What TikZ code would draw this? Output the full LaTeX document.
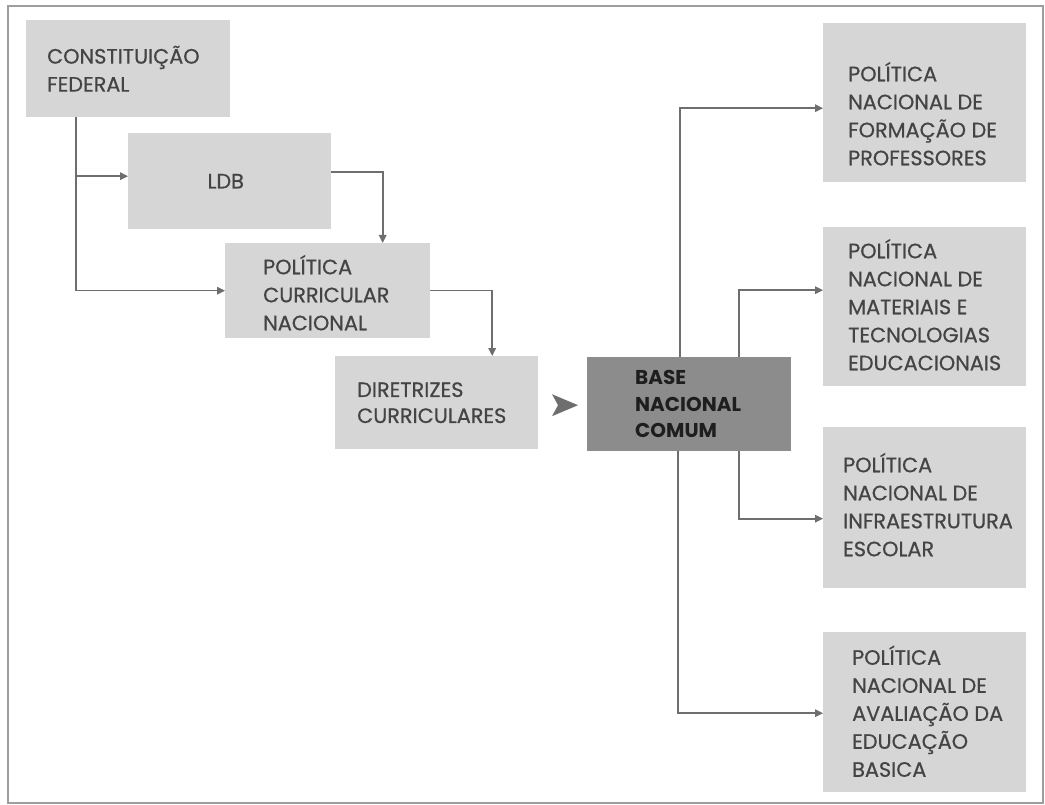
\documentclass[tikz,border=0pt]{standalone}
\usepackage{fontspec}
\setmainfont{Poppins}
\newfontfamily\medfont[FakeBold=0.6]{Poppins}
\usetikzlibrary{arrows.meta,calc}
\definecolor{boxgray}{HTML}{D6D6D6}
\definecolor{basegray}{HTML}{8C8C8C}
\definecolor{linegray}{HTML}{6E6E6E}
\definecolor{framegray}{HTML}{9E9E9E}
\definecolor{txtgray}{HTML}{444444}
\definecolor{txtdark}{HTML}{1E1E1E}
\tikzset{
  box/.style={fill=boxgray, draw=none, inner sep=0, anchor=north west},
  basebox/.style={fill=basegray, draw=none, inner sep=0, anchor=north west},
  lbl/.style={font=\medfont\fontsize{20.8}{28}\selectfont, text=txtgray, align=left, inner sep=0, anchor=west},
  blbl/.style={font=\fontsize{20}{26.5}\selectfont\bfseries, text=txtdark, align=left, inner sep=0, anchor=west},
  arr/.style={draw=linegray, line width=1.6pt, -{Triangle[length=8pt,width=7.5pt]}},
}
\begin{document}
\begin{tikzpicture}[x=1pt,y=-1pt]
\useasboundingbox (0,0) rectangle (1045,805);
\draw[framegray, line width=1.5pt] (8,6) rectangle (1043,803);
% left chain
\node[box, minimum width=204pt, minimum height=97pt] (cf) at (26,20) {};
\node[box, minimum width=203pt, minimum height=96pt] (ldb) at (128,133) {};
\node[box, minimum width=205pt, minimum height=95pt] (pcn) at (225,243) {};
\node[box, minimum width=203pt, minimum height=93pt] (dc) at (335,356) {};
\node[basebox, minimum width=204pt, minimum height=94pt] (bnc) at (587,357) {};
% right boxes
\node[box, minimum width=203pt, minimum height=159pt] (r1) at (823,23) {};
\node[box, minimum width=203pt, minimum height=159pt] (r2) at (823,227) {};
\node[box, minimum width=203pt, minimum height=161pt] (r3) at (823,427) {};
\node[box, minimum width=203pt, minimum height=160pt] (r4) at (823,632) {};
% texts
\node[lbl] (tcf) at ($(cf.west)+(21,0)$) {CONSTITUIÇÃO\\FEDERAL};
\node[lbl, anchor=center] (tldb) at ($(ldb.center)+(-4,0)$) {LDB};
\node[lbl] (tpcn) at ($(pcn.west)+(38,2)$) {POLÍTICA\\CURRICULAR\\NACIONAL};
\node[lbl, font=\medfont\fontsize{20.8}{26}\selectfont] (tdc) at ($(dc.west)+(22,0)$) {DIRETRIZES\\CURRICULARES};
\node[blbl] (tbnc) at ($(bnc.west)+(48,0)$) {BASE\\NACIONAL\\COMUM};
\node[lbl] (tr1) at ($(r1.west)+(25,11)$) {POLÍTICA\\NACIONAL DE\\FORMAÇÃO DE\\PROFESSORES};
\node[lbl] (tr2) at ($(r2.west)+(25,-2)$) {POLÍTICA\\NACIONAL DE\\MATERIAIS E\\TECNOLOGIAS\\EDUCACIONAIS};
\node[lbl] (tr3) at ($(r3.west)+(20,-3)$) {POLÍTICA\\NACIONAL DE\\INFRAESTRUTURA\\ESCOLAR};
\node[lbl] (tr4) at ($(r4.west)+(29,-1)$) {POLÍTICA\\NACIONAL DE\\AVALIAÇÃO DA\\EDUCAÇÃO\\BASICA};
% connectors left
\coordinate (trunk) at ($(cf.south west)+(50,0)$);
\draw[arr] (trunk) |- (pcn.west);
\draw[arr] ($(trunk |- ldb.west)+(0,-5)$) -- ($(ldb.west)+(0,-5)$);
\draw[arr] ($(ldb.east)+(0,-9)$) -| ($(pcn.north)+(55,0)$);
\draw[arr] (pcn.east) -| ($(dc.north)+(55.5,0)$);
% big head between DC and BNC
\fill[linegray] ($(bnc.west)+(-9,1)$) -- ($(bnc.west)+(-35,-10)$) -- ($(bnc.west)+(-29,1)$) -- ($(bnc.west)+(-35,12)$) -- cycle;
% connectors right
\draw[arr] ($(bnc.north west)+(93,0)$) |- ($(r1.west)+(0,5.5)$);
\draw[arr] ($(bnc.north west)+(152,0)$) |- ($(r2.west)+(0,-16.5)$);
\draw[arr] ($(bnc.south west)+(152,0)$) |- ($(r3.west)+(0,11)$);
\draw[arr] ($(bnc.south west)+(91,0)$) |- ($(r4.west)+(0,1)$);
\end{tikzpicture}
\end{document}
